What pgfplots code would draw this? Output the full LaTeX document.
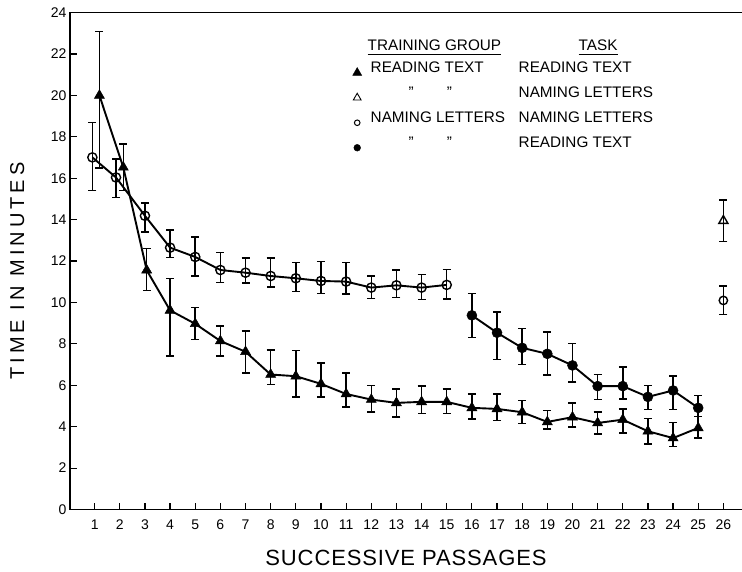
\documentclass[border=0pt]{standalone}
\usepackage{fontspec}
\setmainfont{Liberation Sans}
\usepackage{pgfplots}
\pgfplotsset{compat=1.18}
\newcommand\ulx[1]{\setbox0\hbox{#1}\rlap{\rule[-5bp]{\wd0}{1.1bp}}\box0}
\newcommand\lgfont{\fontsize{15.3bp}{18bp}\selectfont}
\begin{document}
\begin{tikzpicture}
\useasboundingbox (-70bp,-62.5bp) rectangle (672bp,509.5bp);
\begin{axis}[
  scale only axis,
  width=676bp, height=496.8bp,
  xmin=0.02, xmax=26.9, ymin=0, ymax=24,
  xtick={1,...,26}, ytick={0,2,...,24},
  xtick pos=left, ytick pos=left,
  tick align=inside,
  major tick length=7bp,
  every tick/.style={black, line width=1.2bp},
  axis line style={line width=1.4bp},
  /pgf/number format/assume math mode=true,
  xticklabel style={font=\fontsize{14bp}{16bp}\selectfont, yshift=-7bp},
  yticklabel style={font=\fontsize{14bp}{16bp}\selectfont},
  xlabel={\addfontfeature{LetterSpace=4}SUCCESSIVE PASSAGES},
  ylabel={\addfontfeature{LetterSpace=20}TIME IN MINUTES},
  every axis x label/.style={at={(axis description cs:0.497,-0.0976)}, anchor=center, font=\fontsize{22bp}{24bp}\selectfont},
  every axis y label/.style={at={(axis description cs:-0.078,0.48)}, anchor=center, rotate=90, font=\fontsize{20bp}{22bp}\selectfont},
  legend style={at={(axis description cs:0.412,0.955)}, anchor=north west, draw=none, fill=none, inner sep=0pt,
    font=\lgfont, column sep=9bp, row sep=0pt,
    nodes={inner sep=0pt, text height=12bp, text depth=13bp}},
  legend cell align=left,
  error bars/error bar style={line width=1.5bp, black},
  error bars/error mark options={rotate=90, mark size=4bp, line width=1.5bp, black},
]
% filled triangles: reading text group, reading text task
\addplot+[forget plot, black, line width=1.9bp, mark=triangle*, mark size=5.8bp,
  mark options={fill=black, line width=0.5bp},
  error bars/.cd, y dir=both, y explicit]
coordinates {
 (1.19,20.0) += (0,3.1) -= (0,3.5)
 (2.14,16.53) += (0,1.13) -= (0,1.13)
 (3.07,11.56) += (0,1.04) -= (0,0.97)
 (4,9.62) += (0,1.55) -= (0,2.21)
 (5,8.97) += (0,0.78) -= (0,0.75)
 (6,8.14) += (0,0.72) -= (0,0.73)
 (7,7.62) += (0,1.0) -= (0,1.02)
 (8,6.52) += (0,1.18) -= (0,0.48)
 (9,6.44) += (0,1.25) -= (0,1.0)
 (10,6.07) += (0,1.0) -= (0,0.63)
 (11,5.58) += (0,1.02) -= (0,0.63)
 (12,5.31) += (0,0.68) -= (0,0.6)
 (13,5.15) += (0,0.68) -= (0,0.69)
 (14,5.2) += (0,0.76) -= (0,0.57)
 (15,5.2) += (0,0.63) -= (0,0.57)
 (16,4.91) += (0,0.67) -= (0,0.54)
 (17,4.86) += (0,0.72) -= (0,0.57)
 (18,4.70) += (0,0.56) -= (0,0.55)
 (19,4.23) += (0,0.55) -= (0,0.34)
 (20,4.46) += (0,0.69) -= (0,0.47)
 (21,4.18) += (0,0.52) -= (0,0.53)
 (22,4.34) += (0,0.52) -= (0,0.64)
 (23,3.78) += (0,0.61) -= (0,0.62)
 (24,3.45) += (0,0.76) -= (0,0.4)
 (25,3.94) += (0,0.56) -= (0,0.49)
};
% open circles: naming letters group, naming letters task
\addplot+[forget plot, black, line width=1.9bp, mark=o, mark size=4.6bp,
  mark options={fill=white, line width=1.4bp},
  error bars/.cd, y dir=both, y explicit]
coordinates {
 (0.91,17.01) += (0,1.68) -= (0,1.61)
 (1.85,16.04) += (0,0.89) -= (0,0.96)
 (3,14.19) += (0,0.61) -= (0,0.78)
 (4,12.65) += (0,0.85) -= (0,0.48)
 (5,12.2) += (0,0.97) -= (0,0.92)
 (6,11.57) += (0,0.84) -= (0,0.61)
 (7,11.44) += (0,0.7) -= (0,0.51)
 (8,11.28) += (0,0.86) -= (0,0.53)
 (9,11.17) += (0,0.76) -= (0,0.65)
 (10,11.04) += (0,0.94) -= (0,0.6)
 (11,11.01) += (0,0.92) -= (0,0.61)
 (12,10.72) += (0,0.56) -= (0,0.52)
 (13,10.83) += (0,0.74) -= (0,0.6)
 (14,10.72) += (0,0.64) -= (0,0.57)
 (15,10.85) += (0,0.75) -= (0,0.67)
};
% filled circles: naming letters group, reading text task
\addplot+[forget plot, black, line width=1.9bp, mark=*, mark size=5bp,
  mark options={fill=black, line width=0.5bp},
  error bars/.cd, y dir=both, y explicit]
coordinates {
 (16,9.38) += (0,1.05) -= (0,1.08)
 (17,8.54) += (0,1.01) -= (0,1.29)
 (18,7.81) += (0,0.94) -= (0,0.8)
 (19,7.52) += (0,1.05) -= (0,1.03)
 (20,6.96) += (0,1.06) -= (0,0.81)
 (21,5.96) += (0,0.56) -= (0,0.65)
 (22,5.96) += (0,0.92) -= (0,0.62)
 (23,5.44) += (0,0.55) -= (0,0.61)
 (24,5.75) += (0,0.69) -= (0,0.92)
 (25,4.91) += (0,0.6) -= (0,0.41)
};
% open triangle at 26
\addplot+[forget plot, black, only marks, mark=triangle, mark size=5.2bp,
  mark options={fill=white, line width=1.4bp},
  error bars/.cd, y dir=both, y explicit]
coordinates { (26,13.95) += (0,1.0) -= (0,1.0) };
% open circle at 26
\addplot+[forget plot, black, only marks, mark=o, mark size=4.2bp,
  mark options={fill=white, line width=1.4bp},
  error bars/.cd, y dir=both, y explicit]
coordinates { (26,10.1) += (0,0.7) -= (0,0.67) };
% legend
\addlegendimage{empty legend}
\addlegendentry{\raisebox{-3bp}{\makebox[148bp][l]{\hspace*{-3bp}\ulx{TRAINING GROUP}}\hspace*{60bp}\ulx{TASK}}}
\addlegendimage{only marks, black, mark=triangle*, mark size=5.2bp, mark options={fill=black}}
\addlegendentry{\makebox[148bp][l]{READING TEXT}READING TEXT}
\addlegendimage{only marks, black, mark=triangle, mark size=4.5bp, mark options={line width=0.9bp}}
\addlegendentry{\makebox[148bp][l]{\hspace*{38bp}”\hspace*{33bp}”}NAMING LETTERS}
\addlegendimage{only marks, black, mark=o, mark size=2.8bp, mark options={line width=1bp}}
\addlegendentry{\makebox[148bp][l]{NAMING LETTERS}NAMING LETTERS}
\addlegendimage{only marks, black, mark=*, mark size=3.4bp, mark options={fill=black}}
\addlegendentry{\makebox[148bp][l]{\hspace*{38bp}”\hspace*{33bp}”}READING TEXT}
\end{axis}
\end{tikzpicture}
\end{document}
